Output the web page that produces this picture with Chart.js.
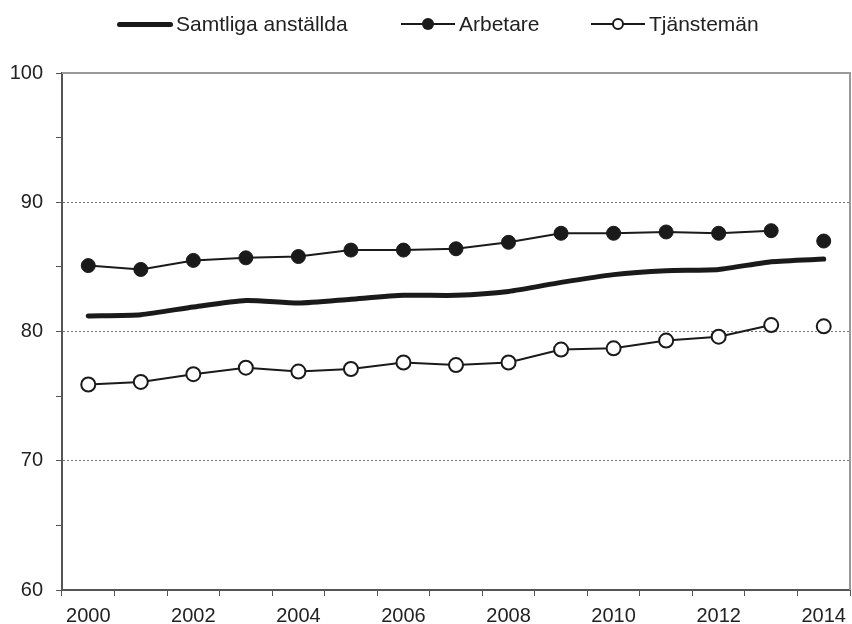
<!DOCTYPE html>
<html>
<head>
<meta charset="utf-8">
<script src="https://cdn.jsdelivr.net/npm/chart.js@4/dist/chart.umd.min.js"></script>
<style>
  html, body { margin: 0; padding: 0; background: #fff; }
  #wrap { position: relative; width: 852px; height: 624px; }
  #legend { position: absolute; left: 0; top: 0; width: 852px; height: 48px;
            font-family: "Liberation Sans", Arial, sans-serif; font-size: 21px; color: #222; }
  .item { position: absolute; top: 11px; height: 26px; line-height: 26px; white-space: nowrap; }
  .swatch { position: absolute; top: 12px; }
  .dot { position: absolute; top: 7px; width: 12px; height: 12px; border-radius: 50%; box-sizing: border-box; }
</style>
</head>
<body>
<div id="wrap">
  <canvas id="chart" width="852" height="624"></canvas>
  <div id="legend">
    <div class="item" style="left:117px">
      <span class="swatch" style="left:0;width:56px;height:5px;margin-top:-1px;background:#1a1a1a;border-radius:3px"></span>
      <span style="position:absolute;left:59px">Samtliga anställda</span>
    </div>
    <div class="item" style="left:401px">
      <span class="swatch" style="left:0;width:54px;height:2px;background:#1a1a1a"></span>
      <span class="dot" style="left:21px;background:#1a1a1a"></span>
      <span style="position:absolute;left:58px">Arbetare</span>
    </div>
    <div class="item" style="left:591px">
      <span class="swatch" style="left:0;width:54px;height:2px;background:#1a1a1a"></span>
      <span class="dot" style="left:21px;background:#fff;border:2px solid #1a1a1a"></span>
      <span style="position:absolute;left:58px">Tjänstemän</span>
    </div>
  </div>
</div>
<script>
// data
const years = ['2000', '2001', '2002', '2003', '2004', '2005', '2006', '2007',
               '2008', '2009', '2010', '2011', '2012', '2013', '2014'];
const samtliga = [81.2, 81.3, 81.9, 82.4, 82.2, 82.5, 82.8, 82.8, 83.1, 83.8, 84.4, 84.7, 84.8, 85.4, 85.6];
const arbetare = [85.1, 84.8, 85.5, 85.7, 85.8, 86.3, 86.3, 86.4, 86.9, 87.6, 87.6, 87.7, 87.6, 87.8, 87.0];
const tjansteman = [75.9, 76.1, 76.7, 77.2, 76.9, 77.1, 77.6, 77.4, 77.6, 78.6, 78.7, 79.3, 79.6, 80.5, 80.4];
const yLabels = [60, 70, 80, 90, 100];
const gridValues = [70, 80, 90];
const breakAfter = '2013'; // no line between 2013 and 2014 for the two groups

const ink = '#1a1a1a';
const breakIndex = years.indexOf(breakAfter);

// grey frame at top and right
const framePlugin = {
    id: 'frame',
    afterDraw(chart) {
        const { ctx, chartArea: a } = chart;
        ctx.save();
        ctx.strokeStyle = '#999';
        ctx.lineWidth = 2;
        ctx.beginPath();
        ctx.moveTo(a.left, a.top);
        ctx.lineTo(a.right, a.top);
        ctx.lineTo(a.right, a.bottom);
        ctx.stroke();
        ctx.restore();
    }
};

const brokenSegment = {
    borderColor: c => c.p0DataIndex === breakIndex ? 'rgba(0,0,0,0)' : ink
};

new Chart(document.getElementById('chart'), {
    type: 'line',
    data: {
        labels: years,
        datasets: [
            {
                label: 'Samtliga anställda',
                data: samtliga,
                borderColor: ink,
                borderWidth: 5,
                tension: 0.2,
                pointRadius: 0,
                borderCapStyle: 'round'
            },
            {
                label: 'Arbetare',
                data: arbetare,
                borderColor: ink,
                borderWidth: 2,
                tension: 0,
                pointRadius: 7,
                pointBackgroundColor: ink,
                pointBorderColor: ink,
                pointBorderWidth: 1,
                segment: brokenSegment
            },
            {
                label: 'Tjänstemän',
                data: tjansteman,
                borderColor: ink,
                borderWidth: 2,
                tension: 0,
                pointRadius: 7,
                pointBackgroundColor: '#fff',
                pointBorderColor: ink,
                pointBorderWidth: 2,
                segment: brokenSegment
            }
        ]
    },
    options: {
        responsive: false,
        animation: false,
        clip: false,
        layout: { autoPadding: false, padding: { top: 73, right: 2, left: 0, bottom: 0 } },
        plugins: {
            legend: { display: false },
            tooltip: { enabled: false }
        },
        scales: {
            x: {
                offset: true,
                grid: {
                    offset: true,
                    drawOnChartArea: false,
                    drawTicks: true,
                    tickLength: 6,
                    tickColor: '#555',
                    tickWidth: 1
                },
                border: { color: '#555', width: 2 },
                ticks: {
                    autoSkip: false,
                    maxRotation: 0,
                    padding: 8,
                    color: '#222',
                    font: { family: 'Liberation Sans', size: 20 },
                    callback: function (v, i) {
                        return i % 2 === 0 ? years[i] : '';
                    }
                },
                afterFit: s => {
                    s.height = 34;
                    s.paddingLeft = 0;
                    s.paddingRight = 0;
                }
            },
            y: {
                min: 60,
                max: 100,
                grid: {
                    color: c => gridValues.includes(c.tick.value) ? '#777' : 'rgba(0,0,0,0)',
                    lineWidth: 1,
                    drawTicks: true,
                    tickLength: 6,
                    tickColor: '#555',
                    tickWidth: 1
                },
                border: { color: '#555', width: 2, dash: [2, 2] },
                ticks: {
                    stepSize: 5,
                    padding: 13,
                    color: '#222',
                    font: { family: 'Liberation Sans', size: 20 },
                    callback: v => yLabels.includes(v) ? String(v) : ''
                },
                afterFit: s => {
                    s.width = 62;
                    s.paddingTop = 0;
                    s.paddingBottom = 0;
                }
            }
        }
    },
    plugins: [framePlugin]
});
</script>
</body>
</html>
